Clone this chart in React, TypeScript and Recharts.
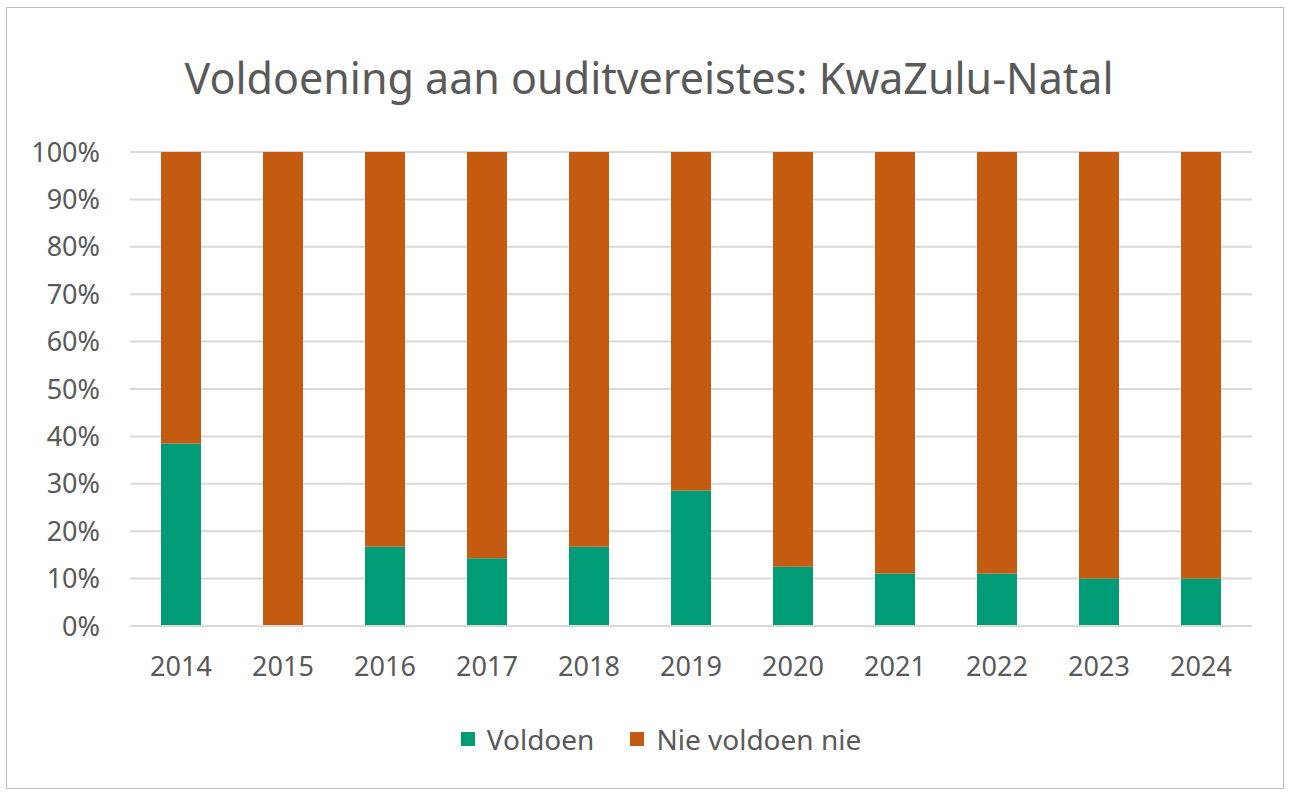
import React from 'react';
import { BarChart, Bar, XAxis, YAxis, CartesianGrid } from 'recharts';

const years = ['2014', '2015', '2016', '2017', '2018', '2019', '2020', '2021', '2022', '2023', '2024'];
// aandeel wat voldoen (%)
const voldoen = [38.5, 0, 16.7, 14.3, 16.7, 28.6, 12.5, 11.1, 11.1, 10, 10];
// aandeel wat nie voldoen nie (%)
const nieVoldoen = [61.5, 100, 83.3, 85.7, 83.3, 71.4, 87.5, 88.9, 88.9, 90, 90];
const yTicks = [0, 10, 20, 30, 40, 50, 60, 70, 80, 90, 100];

const title = 'Voldoening aan ouditvereistes: KwaZulu-Natal';
const GREEN = '#009B77';
const ORANGE = '#C55A11';
const TEXT = '#595959';
const FONT = '"Noto Sans", sans-serif';

const data = years.map((y, i) => ({ year: y, voldoen: voldoen[i], nie: nieVoldoen[i] }));

const legendItems = [
  { label: 'Voldoen', color: GREEN },
  { label: 'Nie voldoen nie', color: ORANGE },
];

const W = 1278;
const H = 782;

export default function App() {
  return (
    <div style={{ position: 'absolute', left: 6, top: 7, width: W, height: H, border: '1px solid #bfbfbf', boxSizing: 'border-box', background: '#fff' }}>
      <svg width={W} height={120} style={{ position: 'absolute', left: 0, top: 0, pointerEvents: 'none' }}>
        <text x={642} y={86} textAnchor="middle" fontFamily={FONT} fontSize={43} fill={TEXT}>
          {title}
        </text>
      </svg>
      <BarChart
        width={W - 2}
        height={H - 2}
        data={data}
        margin={{ top: 144, right: 31, bottom: 132, left: 0 }}
        barSize={40}
      >
        <CartesianGrid vertical={false} stroke="#d9d9d9" strokeWidth={2} />
        <XAxis
          dataKey="year"
          height={30}
          axisLine={{ stroke: '#d9d9d9', strokeWidth: 2 }}
          tickLine={false}
          tickSize={0}
          tickMargin={31}
          tick={{ fill: TEXT, fontSize: 27, fontFamily: FONT }}
        />
        <YAxis
          type="number"
          domain={[0, 100]}
          ticks={yTicks}
          width={123}
          axisLine={false}
          tickLine={false}
          tickSize={0}
          tickMargin={30}
          tickFormatter={(v: number) => `${v}%`}
          tick={{ fill: TEXT, fontSize: 27, fontFamily: FONT }}
          interval={0}
        />
        <Bar dataKey="voldoen" name="Voldoen" stackId="a" fill={GREEN} isAnimationActive={false} />
        <Bar dataKey="nie" name="Nie voldoen nie" stackId="a" fill={ORANGE} isAnimationActive={false} />
      </BarChart>
      <div
        style={{
          position: 'absolute', left: 16, top: 711, width: W - 2, height: 40,
          display: 'flex', justifyContent: 'center', alignItems: 'center',
          fontFamily: FONT, fontSize: 28, color: TEXT,
        }}
      >
        {legendItems.map((it, i) => (
          <div key={it.label} style={{ display: 'flex', alignItems: 'center', marginRight: i === 0 ? 36 : 0 }}>
            <span style={{ display: 'inline-block', width: 14, height: 14, background: it.color, marginRight: 12 }} />
            <span>{it.label}</span>
          </div>
        ))}
      </div>
    </div>
  );
}
